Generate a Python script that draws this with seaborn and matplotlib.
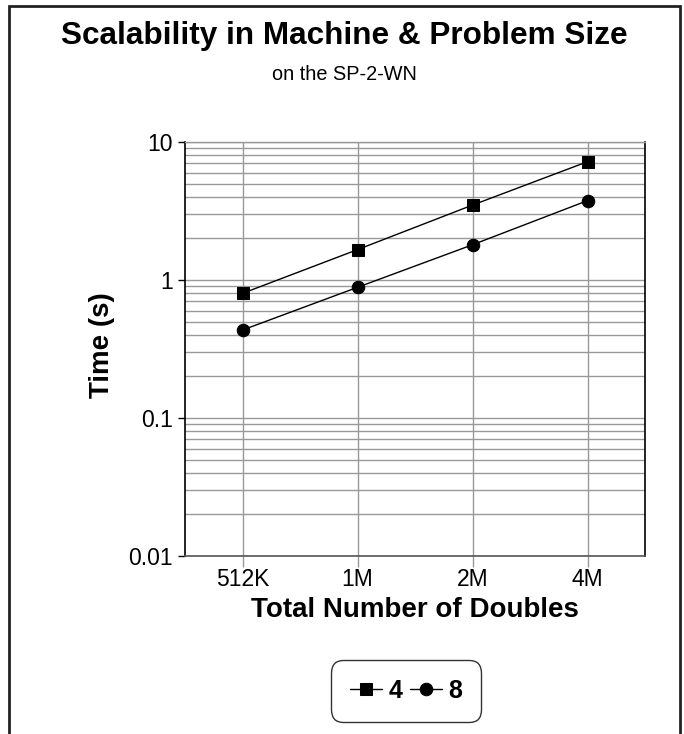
import matplotlib
matplotlib.use("Agg")
import matplotlib.pyplot as plt
import matplotlib.ticker as mticker
from matplotlib.patches import Rectangle
import numpy as np
import pandas as pd
import seaborn as sns

# Problem sizes and measured times (seconds) for 4 and 8 nodes
sizes = ["512K", "1M", "2M", "4M"]
times_4 = [0.80, 1.66, 3.49, 7.2]
times_8 = [0.434, 0.885, 1.80, 3.76]
node_counts = ["4", "8"]
y_ticks = [0.01, 0.1, 1, 10]
y_tick_labels = ["0.01", "0.1", "1", "10"]

df = pd.DataFrame({
    "size": sizes * 2,
    "time": times_4 + times_8,
    "nodes": [node_counts[0]] * len(sizes) + [node_counts[1]] * len(sizes),
})

sns.set_theme(style="white")
plt.rcParams["font.family"] = ["Liberation Sans", "DejaVu Sans"]
plt.rcParams.update({
    "text.color": "black",
    "axes.labelcolor": "black",
    "xtick.color": "black",
    "ytick.color": "black",
})

fig = plt.figure(figsize=(6.84, 7.34), dpi=100)
ax = fig.add_axes([185 / 684, 1 - 556 / 734, 460 / 684, 414 / 734])

sns.lineplot(
    data=df, x="size", y="time", style="nodes", ax=ax,
    markers={"4": "s", "8": "o"}, dashes=False, color="black",
    markersize=9, linewidth=1.0, markeredgecolor="black", sort=False,
)

ax.set_yscale("log")
ax.set_ylim(0.01, 10)
ax.set_xlim(-0.5, 3.5)
ax.yaxis.set_major_locator(mticker.FixedLocator(y_ticks))
ax.yaxis.set_major_formatter(mticker.FixedFormatter(y_tick_labels))
ax.yaxis.set_minor_locator(mticker.LogLocator(base=10, subs=np.arange(2, 10)))
ax.yaxis.set_minor_formatter(mticker.NullFormatter())

grid_col = "#999999"
ax.grid(True, which="major", axis="both", color=grid_col, linewidth=1.0)
ax.grid(True, which="minor", axis="y", color=grid_col, linewidth=1.0)
ax.set_axisbelow(True)

ax.tick_params(axis="y", which="major", direction="out", length=5, width=1,
               color="black", labelsize=16.5, labelcolor="black", pad=4, left=True)
ax.tick_params(axis="y", which="minor", left=False)
ax.tick_params(axis="x", which="major", direction="out", length=8, width=1,
               color=grid_col, labelsize=16.5, labelcolor="black", pad=1, bottom=True)

for side in ["left", "right"]:
    ax.spines[side].set_color("black")
    ax.spines[side].set_linewidth(1.2)
ax.spines["bottom"].set_color("#555555")
ax.spines["bottom"].set_linewidth(1.2)
ax.spines["top"].set_color(grid_col)
ax.spines["top"].set_linewidth(1.0)

ax.set_xlabel("Total Number of Doubles", fontsize=20, fontweight="bold",
              color="black", labelpad=4)
ax.set_ylabel("Time (s)", fontsize=20, fontweight="bold", color="black")
ax.yaxis.set_label_coords((115 - 185) / 460, (556 - 345) / 414)

fig.text(344.5 / 684, 1 - 36 / 734, "Scalability in Machine & Problem Size",
         ha="center", va="center", fontsize=22.7, fontweight="bold")
fig.text(344.5 / 684, 1 - 74 / 734, "on the SP-2-WN",
         ha="center", va="center", fontsize=14.3)

handles, labels = ax.get_legend_handles_labels()
ax.get_legend().remove()
leg = fig.legend(handles, labels, loc="center",
                 bbox_to_anchor=(406 / 684, 1 - 691 / 734), ncol=2,
                 prop={"size": 18, "weight": "bold"}, frameon=True, fancybox=True,
                 handlelength=1.3, handletextpad=0.25, columnspacing=0.3,
                 borderpad=0.5, borderaxespad=0)
leg.get_frame().set_edgecolor("black")
leg.get_frame().set_linewidth(1.0)
leg.get_frame().set_boxstyle("round,pad=0.25,rounding_size=0.5")
for t in leg.get_texts():
    t.set_color("black")

# Outer frame around the chart (open at the bottom edge)
fig.patches.append(Rectangle((9 / 684, -0.05), (680 - 9) / 684, 1.05 - 6 / 734,
                             transform=fig.transFigure, fill=False,
                             edgecolor="#222222", linewidth=2.0))

fig.savefig("out.png", dpi=100)
